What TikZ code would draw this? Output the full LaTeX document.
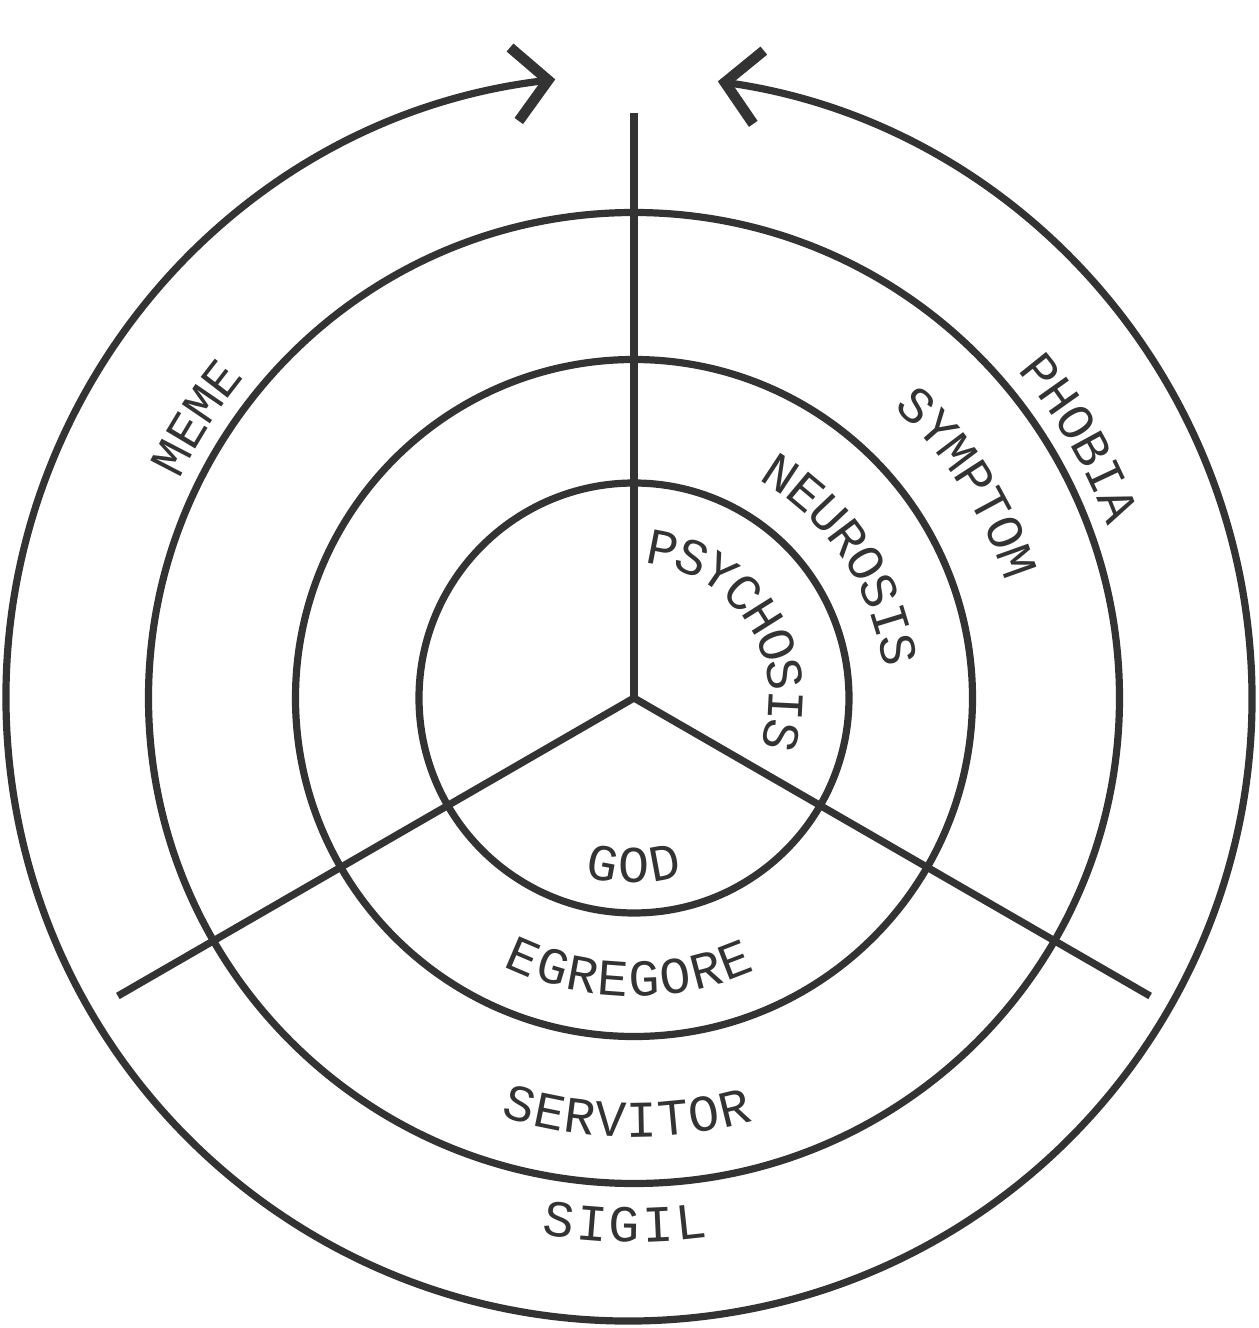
\documentclass[tikz,border=0pt]{standalone}
\usepackage{fontspec}
\usepackage{tikz}
\usetikzlibrary{arrows.meta,decorations.text}
\newfontfamily\monofam{Liberation Mono}
\definecolor{ink}{HTML}{333333}
\newcommand{\ringfont}{\monofam\fontsize{14.7pt}{17pt}\selectfont}

\begin{document}
\begin{tikzpicture}[
    ring/.style={draw=ink, line width=0.72mm},
    spoke/.style={draw=ink, line width=0.72mm, line cap=butt},
    barb/.tip={Straight Barb[length=3.4mm, width=7.4mm, line width=1.05mm]},
    returnarc/.style={draw=ink, line width=0.72mm, barb-barb},
    ringlabel/.style={decorate, decoration={text along path, text align=center, raise=-1.7mm, text color=ink, text={|\ringfont|#1}}}
]
    \useasboundingbox (-6.34,-6.30) rectangle (6.25,6.98);
    \coordinate (c) at (0,0);
    \coordinate (top) at (90:5.85);
    \coordinate (left) at (210:5.96);
    \coordinate (right) at (330:5.96);

    \draw[ring] (c) circle[radius=2.15];
    \draw[ring] (c) circle[radius=3.385];
    \draw[ring] (c) circle[radius=4.855];
    \draw[returnarc] ([xshift=-0.5mm]c) ++(96.8:6.23) arc[start angle=96.8, end angle=441.8, radius=6.23];

    \draw[spoke] (c) -- (top);
    \draw[spoke] (c) -- (left);
    \draw[spoke] (c) -- (right);

    \path[ringlabel=PSYCHOSIS] (c) ++(102.2:1.52) arc[start angle=102.2, end angle=-37.8, radius=1.52];
    \path[ringlabel=NEUROSIS] (c) ++(78.5:2.68) arc[start angle=78.5, end angle=-11.5, radius=2.68];
    \path[ringlabel=SYMPTOM] (c) ++(62.75:4.06) arc[start angle=62.75, end angle=2.75, radius=4.06];
    \path[ringlabel=PHOBIA] (c) ++(55.25:5.21) arc[start angle=55.25, end angle=5.25, radius=5.21];
    \path[ringlabel=MEME] (c) ++(167.4:5.21) arc[start angle=167.4, end angle=127.4, radius=5.21];

    \path[ringlabel=GOD] (c) ++(230:1.68) arc[start angle=230, end angle=310, radius=1.68];
    \path[ringlabel=EGREGORE] (c) ++(229:2.81) arc[start angle=229, end angle=309, radius=2.81];
    \path[ringlabel=SERVITOR] (c) ++(239:4.22) arc[start angle=239, end angle=299, radius=4.22];
    \path[ringlabel=SIGIL, decoration={raise=-4.9mm}] (c) ++(244:4.95) arc[start angle=244, end angle=294, radius=4.95];
\end{tikzpicture}
\end{document}
